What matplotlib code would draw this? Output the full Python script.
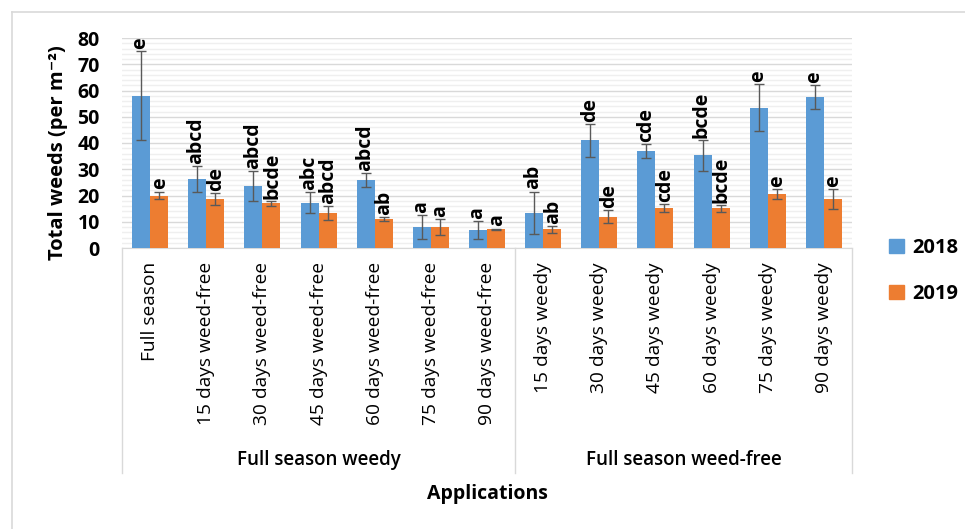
import numpy as np
import matplotlib.pyplot as plt
from matplotlib.patches import Patch
from matplotlib.lines import Line2D

plt.rcParams['font.family'] = ['Open Sans', 'DejaVu Sans']

# Data
categories = ['Full season', '15 days weed-free', '30 days weed-free',
              '45 days weed-free', '60 days weed-free', '75 days weed-free',
              '90 days weed-free', '15 days weedy', '30 days weedy',
              '45 days weedy', '60 days weedy', '75 days weedy',
              '90 days weedy']
groups = ['Full season weedy', 'Full season weed-free']
group_sizes = [7, 6]

weeds_2018 = [58.0, 26.3, 23.6, 17.3, 25.8, 8.0, 6.8, 13.5, 41.0, 37.0, 35.3, 53.5, 57.5]
err_2018 = [17.0, 4.8, 5.8, 4.0, 2.6, 4.4, 3.3, 8.0, 6.2, 2.7, 6.0, 9.0, 4.7]
weeds_2019 = [20.0, 18.6, 17.0, 13.4, 11.1, 8.0, 7.1, 7.1, 12.0, 15.2, 15.2, 20.5, 18.7]
err_2019 = [1.5, 2.3, 1.0, 2.7, 0.8, 3.2, 0.3, 1.3, 2.4, 1.6, 1.3, 2.0, 3.8]

letters_2018 = ['e', 'abcd', 'abcd', 'abc', 'abcd', 'a', 'a', 'ab', 'de', 'cde', 'bcde', 'e', 'e']
letters_2019 = ['e', 'de', 'bcde', 'abcd', 'ab', 'a', 'a', 'ab', 'de', 'cde', 'bcde', 'e', 'e']

blue = '#5B9BD5'
orange = '#ED7D31'
W, H = 965, 529

fig = plt.figure(figsize=(W / 100, H / 100), dpi=100)
ax = fig.add_axes([122 / W, (H - 248) / H, 730 / W, 210 / H])

x = np.arange(len(categories))
bw = 0.32
ax.bar(x - bw / 2, weeds_2018, bw, color=blue, zorder=3)
ax.bar(x + bw / 2, weeds_2019, bw, color=orange, zorder=3)
ekw = dict(fmt='none', ecolor='#595959', elinewidth=1, capsize=3.5, capthick=1, zorder=4)
ax.errorbar(x - bw / 2, weeds_2018, yerr=err_2018, **ekw)
ax.errorbar(x + bw / 2, weeds_2019, yerr=err_2019, **ekw)

# significance letters
for xi, v, e, t in zip(x - bw / 2, weeds_2018, err_2018, letters_2018):
    ax.annotate(t, (xi, v + e), xytext=(-0.5, 1.5), textcoords='offset points',
                rotation=90, ha='center', va='bottom', fontsize=14,
                fontweight='bold', zorder=5)
for xi, v, e, t in zip(x + bw / 2, weeds_2019, err_2019, letters_2019):
    ax.annotate(t, (xi, v + e), xytext=(0.5, 1.5), textcoords='offset points',
                rotation=90, ha='center', va='bottom', fontsize=14,
                fontweight='bold', zorder=5)

ax.set_xlim(-0.5, len(categories) - 0.5)
ax.set_ylim(0, 80)
ax.set_yticks(np.arange(0, 81, 10))
ax.set_yticks(np.arange(0, 81, 2), minor=True)
ax.grid(True, which='major', axis='y', color='#D9D9D9', linewidth=1, zorder=0)
ax.grid(True, which='minor', axis='y', color='#EFEFEF', linewidth=1, zorder=0)
for s in ['top', 'right', 'left']:
    ax.spines[s].set_visible(False)
ax.spines['bottom'].set_color('#D9D9D9')

ax.tick_params(axis='y', which='both', length=0, pad=16, labelsize=14)
for lbl in ax.get_yticklabels():
    lbl.set_fontweight('bold')
ax.set_xticks(x)
ax.set_xticklabels(categories, rotation=90, fontsize=13.8)
ax.tick_params(axis='x', length=0, pad=10)

# group separators and labels
sep_bottom = -(473 - 248) / 210
bounds = np.concatenate([[0], np.cumsum(group_sizes)]) - 0.5
trans = ax.get_xaxis_transform()
for b in bounds:
    ax.add_line(Line2D([b, b], [0, sep_bottom], transform=trans,
                       color='#D9D9D9', linewidth=1, clip_on=False))
for g, lo, hi in zip(groups, bounds[:-1], bounds[1:]):
    ax.text((lo + hi) / 2, -(460 - 248) / 210, g, transform=trans,
            ha='center', va='center', fontsize=13.5, fontweight='semibold')

ax.text(0.5, -(494 - 248) / 210, 'Applications', transform=ax.transAxes,
        ha='center', va='center', fontsize=14, fontweight='bold')
fig.text(58 / W, 1 - 153 / H, 'Total weeds (per m\u207b\u00b2)', rotation=90,
         ha='center', va='center', fontsize=14.5, fontweight='bold')

leg = fig.legend(handles=[Patch(color=blue, label='2018'), Patch(color=orange, label='2019')],
                 loc='center left', bbox_to_anchor=(889 / W, 1 - 271 / H),
                 frameon=False, borderpad=0, borderaxespad=0,
                 handlelength=0.75, handleheight=0.75,
                 labelspacing=1.3, handletextpad=0.4,
                 prop={'weight': 'bold', 'size': 14.5})

# outer chart border (top and left visible)
fig.add_artist(Line2D([12 / W, 1], [1 - 12 / H, 1 - 12 / H], transform=fig.transFigure,
                      color='#D9D9D9', linewidth=1.2))
fig.add_artist(Line2D([12 / W, 12 / W], [0, 1 - 12 / H], transform=fig.transFigure,
                      color='#D9D9D9', linewidth=1.2))

fig.savefig('out.png', dpi=100)
